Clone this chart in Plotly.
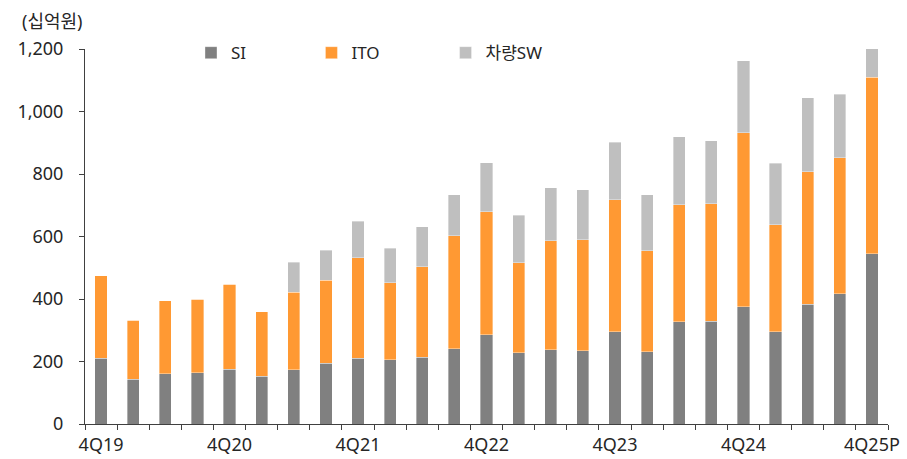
import plotly.graph_objects as go

quarters = ["4Q19", "1Q20", "2Q20", "3Q20", "4Q20", "1Q21", "2Q21", "3Q21", "4Q21",
            "1Q22", "2Q22", "3Q22", "4Q22", "1Q23", "2Q23", "3Q23", "4Q23",
            "1Q24", "2Q24", "3Q24", "4Q24", "1Q25", "2Q25", "3Q25", "4Q25P"]
si = [210, 144, 161, 164, 175, 153, 173, 194, 211, 206, 214, 241, 285,
      228, 237, 234, 295, 232, 327, 329, 375, 295, 384, 417, 545]
ito = [265, 188, 233, 236, 273, 206, 248, 266, 321, 246, 289, 361, 394,
       288, 349, 355, 423, 323, 375, 376, 557, 342, 423, 435, 565]
sw = [0, 0, 0, 0, 0, 0, 96, 96, 117, 110, 129, 131, 157,
      152, 170, 160, 183, 179, 218, 202, 230, 198, 237, 204, 120]
tick_labels = {"4Q19", "4Q20", "4Q21", "4Q22", "4Q23", "4Q24", "4Q25P"}

font_family = "Noto Sans, Noto Sans CJK KR, sans-serif"
text_color = "#262626"

series = [
    ("SI", si, "#808080", "legend", 0.132),
    ("ITO", ito, "#FF9933", "legend2", 0.282),
    ("차량SW", sw, "#BFBFBF", "legend3", 0.449),
]

fig = go.Figure()
legend_layouts = {}
for name, vals, color, leg, lx in series:
    fig.add_trace(go.Bar(
        x=quarters, y=vals, name=name, legend=leg,
        marker=dict(color=color, line=dict(color="rgba(255,255,255,0.6)", width=0.6)),
        width=0.38,
    ))
    legend_layouts[leg] = dict(
        orientation="h", x=lx, y=0.989, xanchor="left", yanchor="middle",
        font=dict(size=17, color=text_color), itemwidth=30,
        bgcolor="rgba(0,0,0,0)",
    )

fig.update_layout(
    barmode="stack",
    width=907, height=459,
    margin=dict(l=85, r=19, t=49, b=35, autoexpand=False),
    paper_bgcolor="white", plot_bgcolor="white",
    font=dict(family=font_family, size=18, color=text_color),
    showlegend=True,
    xaxis=dict(
        type="category", tickson="boundaries",
        tickvals=quarters,
        ticktext=[q if q in tick_labels else "" for q in quarters],
        tickangle=0, automargin=False, ticklabelstandoff=4,
        ticks="outside", ticklen=5, tickcolor="#404040",
        showline=True, linecolor="#404040", linewidth=1,
        showgrid=False, tickfont=dict(size=18, color=text_color),
        range=[-0.5, 24.5],
    ),
    yaxis=dict(
        range=[0, 1200], tickvals=[0, 200, 400, 600, 800, 1000, 1200],
        tickformat=",d", ticks="outside", ticklen=5, tickcolor="#404040",
        showline=True, linecolor="#404040", linewidth=1, automargin=False,
        ticklabelstandoff=12,
        showgrid=False, zeroline=False, tickfont=dict(size=18, color=text_color),
    ),
    annotations=[dict(
        text="(십억원)", xref="paper", yref="paper", x=-0.081, y=1.0747,
        xanchor="left", yanchor="middle", showarrow=False,
        font=dict(size=18, color=text_color),
    )],
    **legend_layouts,
)

fig.write_html("out.html")
